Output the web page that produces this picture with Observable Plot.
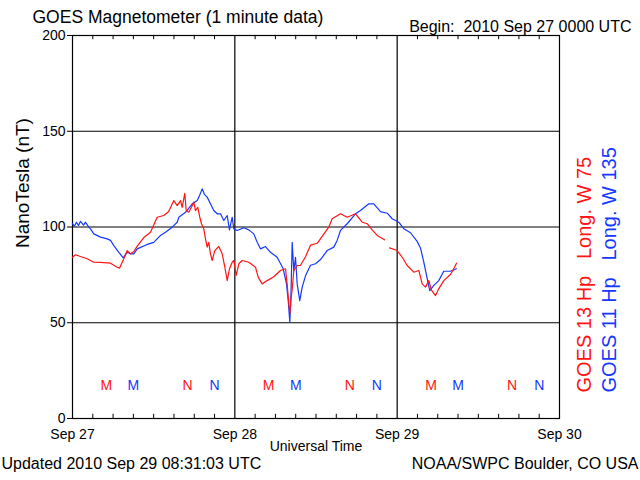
<!DOCTYPE html>
<html>
<head>
<meta charset="utf-8">
<script src="https://cdn.jsdelivr.net/npm/d3@7"></script>
<script src="https://cdn.jsdelivr.net/npm/@observablehq/plot@0.6"></script>
<style>
  html, body { margin: 0; padding: 0; background: white; }
</style>
</head>
<body>
<div id="chart"></div>
<script>
// Hours since 2010 Sep 27 00:00 UTC, and field values (nT)
const g13Hours = [0.0,0.44,1.18,2.17,3.15,4.14,5.62,6.61,6.95,7.58,8.09,8.57,9.06,9.57,10.54,11.53,12.52,13.50,14.19,14.74,14.98,15.48,15.97,16.22,16.60,16.81,17.19,17.59,17.93,18.18,18.52,18.82,19.07,19.41,19.66,19.91,20.15,20.40,20.65,21.04,21.63,22.13,22.52,22.87,23.21,23.61,23.85,24.20,24.59,25.09,26.06,27.05,27.45,28.04,28.78,29.76,30.75,31.49,31.74,31.98,32.16,32.30,32.48,32.72,33.22,33.71,34.45,35.19,36.18,37.17,37.89,38.39,39.62,40.61,41.84,42.83,43.57,44.31,45.05,46.13,46.50,46.87,48.00,48.74,49.48,50.46,51.20,51.70,52.19,52.68,53.07,53.67,54.15,54.89,55.88,56.48,56.77];
const g13Values = [84.2,85.5,84.6,83.4,81.6,81.5,81.1,79.0,78.5,83.4,87.7,86.0,87.2,90.0,94.5,97.3,105.1,106.0,108.0,112.0,113.8,111.2,113.8,110.3,117.6,108.6,107.7,110.3,113.0,108.6,110.3,105.1,101.7,99.0,93.8,89.5,92.0,86.0,82.5,87.7,89.8,86.0,79.0,72.0,78.2,81.6,82.5,74.7,80.8,82.5,81.6,79.0,73.8,70.3,72.0,74.0,77.3,78.2,70.0,60.0,55.0,62.0,67.5,77.3,79.9,80.0,84.5,90.5,91.5,96.4,99.9,104.3,106.9,105.1,106.9,102.5,101.7,98.5,95.6,93.3,NaN,89.1,87.7,84.2,79.9,76.4,77.3,70.3,68.6,72.0,67.0,64.2,67.7,72.0,75.2,79.0,81.1];

const g11Hours = [0.0,0.30,0.59,0.89,1.18,1.63,1.92,2.41,2.66,3.15,4.14,5.13,5.62,6.11,6.85,7.50,8.09,8.57,9.06,9.57,11.04,12.02,13.01,13.75,14.74,15.48,15.72,16.71,17.70,18.44,18.78,19.18,19.51,19.91,20.40,20.89,21.39,21.88,22.37,22.87,23.21,23.61,23.85,24.35,25.33,26.06,26.80,27.31,27.79,28.53,29.27,30.26,31.15,31.64,31.89,32.13,32.30,32.48,32.72,32.97,33.22,33.60,33.96,34.45,35.19,35.93,36.67,37.65,38.63,39.13,39.62,40.61,41.84,42.58,43.81,44.54,45.54,46.53,47.27,48.24,48.98,49.97,50.95,51.45,51.94,52.44,52.82,53.42,54.15,54.89,55.88,56.77];
const g11Values = [101.7,100.5,102.5,100.8,103.0,101.0,102.5,99.9,99.0,96.4,94.7,93.8,93.0,90.3,86.8,83.9,86.8,86.0,86.0,88.6,90.9,92.0,95.6,97.3,99.9,102.5,105.1,107.7,112.1,113.8,116.5,119.9,117.0,115.6,112.1,108.6,106.9,106.9,103.4,106.0,98.5,105.1,99.0,98.2,99.6,98.5,96.4,92.0,88.6,89.8,86.8,84.2,78.2,70.3,61.6,50.3,65.0,92.0,77.0,84.2,70.3,61.6,68.6,74.5,80.0,80.8,83.0,87.7,89.5,93.0,98.2,101.7,106.9,108.6,112.1,112.1,108.0,107.2,104.3,102.5,99.1,97.0,92.5,89.0,81.6,73.0,66.8,69.5,72.0,76.9,76.9,78.2];

// Local midnight (M) and noon (N) markers, hours
const g13Midnight = [5, 29, 53];
const g13Noon = [17, 41, 65];
const g11Midnight = [9, 33, 57];
const g11Noon = [21, 45, 69];

// Axes
const dayTicks = [0, 24, 48, 72];
const dayLabels = ["Sep 27", "Sep 28", "Sep 29", "Sep 30"];
const minorTicks = [3,6,9,12,15,18,21,27,30,33,36,39,42,45,51,54,57,60,63,66,69];
const yTicks = [0, 50, 100, 150, 200];
const yGrid = [50, 100, 150];
const xGrid = [24, 48];

// Texts
const titleText = "GOES Magnetometer (1 minute data)";
const beginText = "Begin:\u00a0\u00a02010 Sep 27 0000 UTC";
const yLabel = "NanoTesla (nT)";
const xLabel = "Universal Time";
const updatedText = "Updated 2010 Sep 29 08:31:03 UTC";
const creditText = "NOAA/SWPC Boulder, CO USA";
const g13Label = "GOES 13 Hp\u00a0\u00a0\u00a0Long.\u00a0W\u00a075";
const g11Label = "GOES 11 Hp\u00a0\u00a0\u00a0Long.\u00a0W\u00a0135";

const RED = "#ff1414";
const BLUE = "#1438ff";

const g13 = g13Hours.map((h, i) => ({h, v: g13Values[i]}));
const g11 = g11Hours.map((h, i) => ({h, v: g11Values[i]}));

const chart = Plot.plot({
  width: 640,
  height: 480,
  marginLeft: 72,
  marginRight: 81,
  marginTop: 35,
  marginBottom: 62,
  x: {domain: [0, 72]},
  y: {domain: [0, 200]},
  style: {fontFamily: "Liberation Sans, Arial, sans-serif", background: "white", color: "black", overflow: "visible"},
  marks: [
    Plot.ruleY(yGrid, {stroke: "black", strokeWidth: 1.2}),
    Plot.ruleX(xGrid, {stroke: "black", strokeWidth: 1.2}),
    Plot.ruleX(minorTicks, {y1: 0, y2: 2.2, stroke: "black"}),
    Plot.ruleX(minorTicks, {y1: 200, y2: 197.8, stroke: "black"}),
    Plot.frame({stroke: "black", strokeWidth: 1.2}),
    Plot.axisY(yTicks, {tickSize: 5, tickPadding: 2, fontSize: 14, label: null}),
    Plot.axisX(dayTicks, {tickSize: 0, tickPadding: 11, fontSize: 14, label: null,
      tickFormat: d => dayLabels[dayTicks.indexOf(d)]}),
    Plot.line(g11, {x: "h", y: "v", stroke: BLUE, strokeWidth: 1.2}),
    Plot.line(g13, {x: "h", y: "v", stroke: RED, strokeWidth: 1.2}),
    Plot.text(g13Midnight, {x: d => d, y: 17, text: () => "M", fill: RED, fontSize: 14}),
    Plot.text(g13Noon, {x: d => d, y: 17, text: () => "N", fill: RED, fontSize: 14}),
    Plot.text(g11Midnight, {x: d => d, y: 17, text: () => "M", fill: BLUE, fontSize: 14}),
    Plot.text(g11Noon, {x: d => d, y: 17, text: () => "N", fill: BLUE, fontSize: 14}),
    Plot.text([titleText], {text: d => d, frameAnchor: "top-left", textAnchor: "start", dx: -40, dy: -25, fontSize: 17.5}),
    Plot.text([beginText], {text: d => d, frameAnchor: "top-right", textAnchor: "end", dx: 72, dy: -15, fontSize: 16}),
    Plot.text([yLabel], {text: d => d, frameAnchor: "left", rotate: -90, dx: -50, dy: 21, fontSize: 19}),
    Plot.text([xLabel], {text: d => d, frameAnchor: "bottom", dy: 32, fontSize: 14}),
    Plot.text([updatedText], {text: d => d, frameAnchor: "bottom-left", textAnchor: "start", dx: -71, dy: 50, fontSize: 16}),
    Plot.text([creditText], {text: d => d, frameAnchor: "bottom-right", textAnchor: "end", dx: 79, dy: 50, fontSize: 16}),
    Plot.text([g13Label], {text: d => d, frameAnchor: "bottom-right", rotate: -90, textAnchor: "start", dx: 31, dy: -26, fontSize: 20, fill: RED}),
    Plot.text([g11Label], {text: d => d, frameAnchor: "bottom-right", rotate: -90, textAnchor: "start", dx: 56, dy: -26, fontSize: 20, fill: BLUE})
  ]
});
document.getElementById("chart").appendChild(chart);
</script>
</body>
</html>
